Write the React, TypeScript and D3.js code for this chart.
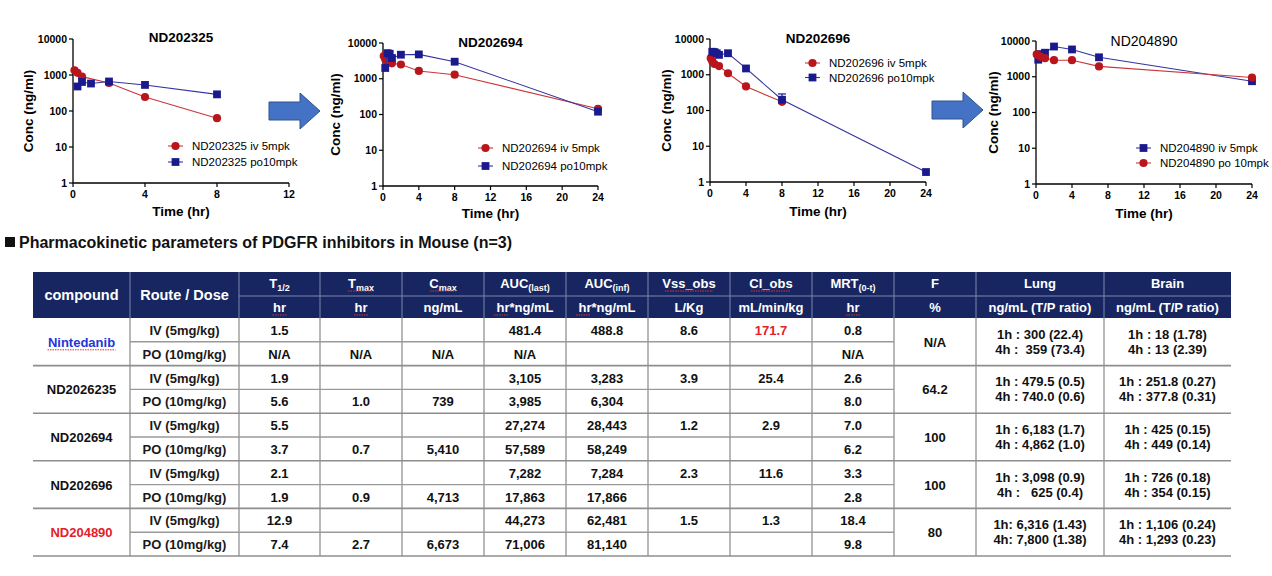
import React from "react";
import * as d3 from "d3";

// ---------------- chart data (time hr, conc ng/ml) ----------------
const c1IvT = [0.083, 0.25, 0.5, 2, 4, 8];
const c1IvC = [1350, 1150, 900, 600, 245, 63];
const c1PoT = [0.25, 0.5, 1, 2, 4, 8];
const c1PoC = [480, 640, 580, 660, 530, 290];

const c2IvT = [0.083, 0.25, 0.5, 1, 2, 4, 8, 24];
const c2IvC = [4300, 3500, 2800, 2700, 2500, 1650, 1300, 145];
const c2PoT = [0.25, 0.5, 0.75, 1, 2, 4, 8, 24];
const c2PoC = [2000, 5200, 5000, 3800, 4700, 4800, 3000, 120];

const c3IvT = [0.083, 0.25, 0.5, 1, 2, 4, 8];
const c3IvC = [2900, 2400, 2000, 1750, 1100, 470, 175];
const c3PoT = [0.25, 0.5, 0.75, 1, 2, 4, 8, 24];
const c3PoC = [4400, 4300, 4000, 3600, 4000, 1500, 200, 1.9];
const c3PoErr = [0, 0, 0, 0, 0, 0, 90, 0];

const c4IvT = [0.25, 0.5, 1, 2, 4, 7, 24];
const c4IvC = [3000, 4300, 4700, 7000, 5800, 3500, 750];
const c4PoT = [0.083, 0.25, 0.5, 1, 2, 4, 7, 24];
const c4PoC = [4200, 4000, 3600, 3300, 2900, 2900, 1950, 950];

const yTicks = [1, 10, 100, 1000, 10000];
const xTicks12 = [0, 4, 8, 12];
const xTicks24 = [0, 4, 8, 12, 16, 20, 24];

// ---------------- table data ----------------
const compounds = ["Nintedanib", "ND2026235", "ND202694", "ND202696", "ND204890"];
const routes = ["IV (5mg/kg)", "PO (10mg/kg)"];
const t12 = [["1.5", "N/A"], ["1.9", "5.6"], ["5.5", "3.7"], ["2.1", "1.9"], ["12.9", "7.4"]];
const tmax = [["", "N/A"], ["", "1.0"], ["", "0.7"], ["", "0.9"], ["", "2.7"]];
const cmax = [["", "N/A"], ["", "739"], ["", "5,410"], ["", "4,713"], ["", "6,673"]];
const aucLast = [["481.4", "N/A"], ["3,105", "3,985"], ["27,274", "57,589"], ["7,282", "17,863"], ["44,273", "71,006"]];
const aucInf = [["488.8", ""], ["3,283", "6,304"], ["28,443", "58,249"], ["7,284", "17,866"], ["62,481", "81,140"]];
const vss = [["8.6", ""], ["3.9", ""], ["1.2", ""], ["2.3", ""], ["1.5", ""]];
const clObs = [["171.7", ""], ["25.4", ""], ["2.9", ""], ["11.6", ""], ["1.3", ""]];
const mrt = [["0.8", "N/A"], ["2.6", "8.0"], ["7.0", "6.2"], ["3.3", "2.8"], ["18.4", "9.8"]];
const fPct = ["N/A", "64.2", "100", "100", "80"];
const lung = [
  ["1h : 300 (22.4)", "4h :  359 (73.4)"],
  ["1h : 479.5 (0.5)", "4h : 740.0 (0.6)"],
  ["1h : 6,183 (1.7)", "4h : 4,862 (1.0)"],
  ["1h : 3,098 (0.9)", "4h :   625 (0.4)"],
  ["1h: 6,316 (1.43)", "4h: 7,800 (1.38)"],
];
const brain = [
  ["1h : 18 (1.78)", "4h : 13 (2.39)"],
  ["1h : 251.8 (0.27)", "4h : 377.8 (0.31)"],
  ["1h : 425 (0.15)", "4h : 449 (0.14)"],
  ["1h : 726 (0.18)", "4h : 354 (0.15)"],
  ["1h : 1,106 (0.24)", "4h : 1,293 (0.23)"],
];

const FONT = "'Liberation Sans', Arial, sans-serif";
const RED = "#B8161C";
const RED_LINE = "#C8383A";
const BLUE = "#1A1A8E";
const BLUE_LINE = "#3434A0";
const NAVY = "#172660";

type Series = { name: string; t: number[]; c: number[]; err?: number[]; shape: "circle" | "square"; color: string; lineColor: string };

type ChartCfg = {
  left: number; right: number; top: number; bottom: number; xMax: number; xTicks: number[];
  title: string; titleBold: boolean; titleY: number; yLabelX: number; xLabelY: number;
  legX: number; legY: number; legGap: number; series: Series[];
};

function Marker({ shape, x, y, color }: { shape: string; x: number; y: number; color: string }) {
  if (shape === "circle") return <circle cx={x} cy={y} r={4.1} fill={color} />;
  return <rect x={x - 3.9} y={y - 3.9} width={7.8} height={7.8} fill={color} />;
}

function PKChart({ cfg }: { cfg: ChartCfg }) {
  const x = d3.scaleLinear().domain([0, cfg.xMax]).range([cfg.left, cfg.right]);
  const y = d3.scaleLog().domain([1, 10000]).range([cfg.bottom, cfg.top]);
  const line = d3.line<number[]>().x((d) => x(d[0])).y((d) => y(d[1]));
  const cx = (cfg.left + cfg.right) / 2;
  return (
    <g fontFamily={FONT}>
      <line x1={cfg.left} x2={cfg.left} y1={cfg.top} y2={cfg.bottom} stroke="#000" strokeWidth={1.3} />
      <line x1={cfg.left} x2={cfg.right} y1={cfg.bottom} y2={cfg.bottom} stroke="#000" strokeWidth={1.3} />
      {yTicks.map((v) => (
        <g key={"y" + v}>
          <line x1={cfg.left - 4} x2={cfg.left} y1={y(v)} y2={y(v)} stroke="#000" strokeWidth={1.2} />
          <text x={cfg.left - 6} y={y(v) + 3.6} textAnchor="end" fontSize={10.5} fontWeight="bold">{v}</text>
        </g>
      ))}
      {cfg.xTicks.map((v) => (
        <g key={"x" + v}>
          <line x1={x(v)} x2={x(v)} y1={cfg.bottom} y2={cfg.bottom + 4} stroke="#000" strokeWidth={1.2} />
          <text x={x(v)} y={cfg.bottom + 15} textAnchor="middle" fontSize={10.5} fontWeight="bold">{v}</text>
        </g>
      ))}
      <text x={cx} y={cfg.titleY + 5} textAnchor="middle" fontSize={cfg.titleBold ? 13.5 : 14} fontWeight={cfg.titleBold ? "bold" : "normal"}>{cfg.title}</text>
      <text transform={`translate(${cfg.yLabelX + 5},${(cfg.top + cfg.bottom) / 2}) rotate(-90)`} textAnchor="middle" fontSize={13.5} fontWeight="bold">Conc (ng/ml)</text>
      <text x={cx} y={cfg.xLabelY + 5} textAnchor="middle" fontSize={13.5} fontWeight="bold">Time (hr)</text>
      {cfg.series.map((s) => {
        const pts = s.t.map((t, i) => [t, s.c[i]]);
        return (
          <g key={s.name}>
            <path d={line(pts) || ""} fill="none" stroke={s.lineColor} strokeWidth={1.1} />
            {s.err && s.t.map((t, i) => s.err![i] > 0 ? (
              <g key={"e" + i}>
                <line x1={x(t)} x2={x(t)} y1={y(s.c[i])} y2={y(s.c[i] + s.err![i])} stroke={s.color} strokeWidth={1.2} />
                <line x1={x(t) - 4} x2={x(t) + 4} y1={y(s.c[i] + s.err![i])} y2={y(s.c[i] + s.err![i])} stroke={s.color} strokeWidth={1.2} />
              </g>
            ) : null)}
            {pts.map((p, i) => <Marker key={i} shape={s.shape} x={x(p[0])} y={y(p[1])} color={s.color} />)}
          </g>
        );
      })}
      {cfg.series.map((s, i) => {
        const ly = cfg.legY + i * cfg.legGap;
        return (
          <g key={"l" + i}>
            <line x1={cfg.legX} x2={cfg.legX + 15} y1={ly} y2={ly} stroke={s.lineColor} strokeWidth={1.1} />
            <Marker shape={s.shape} x={cfg.legX + 7.5} y={ly} color={s.color} />
            <text x={cfg.legX + 24} y={ly + 4} fontSize={11.5}>{s.name}</text>
          </g>
        );
      })}
    </g>
  );
}

const charts: ChartCfg[] = [
  {
    left: 73, right: 289, top: 39, bottom: 183, xMax: 12, xTicks: xTicks12, title: "ND202325", titleBold: true, titleY: 37,
    yLabelX: 28, xLabelY: 211, legX: 168, legY: 146, legGap: 16,
    series: [
      { name: "ND202325 iv 5mpk", t: c1IvT, c: c1IvC, shape: "circle", color: RED, lineColor: RED_LINE },
      { name: "ND202325 po10mpk", t: c1PoT, c: c1PoC, shape: "square", color: BLUE, lineColor: BLUE_LINE },
    ],
  },
  {
    left: 383, right: 598, top: 43, bottom: 186, xMax: 24, xTicks: xTicks24, title: "ND202694", titleBold: true, titleY: 42,
    yLabelX: 335, xLabelY: 213, legX: 478, legY: 148, legGap: 18,
    series: [
      { name: "ND202694 iv 5mpk", t: c2IvT, c: c2IvC, shape: "circle", color: RED, lineColor: RED_LINE },
      { name: "ND202694 po10mpk", t: c2PoT, c: c2PoC, shape: "square", color: BLUE, lineColor: BLUE_LINE },
    ],
  },
  {
    left: 710, right: 926, top: 39, bottom: 182, xMax: 24, xTicks: xTicks24, title: "ND202696", titleBold: true, titleY: 38,
    yLabelX: 666, xLabelY: 211, legX: 805, legY: 63, legGap: 14.5,
    series: [
      { name: "ND202696 iv 5mpk", t: c3IvT, c: c3IvC, shape: "circle", color: RED, lineColor: RED_LINE },
      { name: "ND202696 po10mpk", t: c3PoT, c: c3PoC, err: c3PoErr, shape: "square", color: BLUE, lineColor: BLUE_LINE },
    ],
  },
  {
    left: 1036, right: 1252, top: 41, bottom: 184, xMax: 24, xTicks: xTicks24, title: "ND204890", titleBold: false, titleY: 41,
    yLabelX: 993, xLabelY: 213, legX: 1136, legY: 148, legGap: 15,
    series: [
      { name: "ND204890 iv 5mpk", t: c4IvT, c: c4IvC, shape: "square", color: BLUE, lineColor: BLUE_LINE },
      { name: "ND204890 po 10mpk", t: c4PoT, c: c4PoC, shape: "circle", color: RED, lineColor: RED_LINE },
    ],
  },
];

function Arrow({ x0, x1, yc }: { x0: number; x1: number; yc: number }) {
  const head = 20;
  const bh = 9;
  const hh = 18;
  const xb = x1 - head;
  const d = `M${x0},${yc - bh} L${xb},${yc - bh} L${xb},${yc - hh} L${x1},${yc} L${xb},${yc + hh} L${xb},${yc + bh} L${x0},${yc + bh} Z`;
  return <path d={d} fill="#4472C4" stroke="#2F528F" strokeWidth={1} />;
}

const colX = [33, 130, 239, 320, 402, 484, 566, 648, 730, 812, 894, 976, 1104, 1231];
const tableTop = 272;
const h1 = 24;
const h2 = 22;
const rowH = 23.8;

function Squiggle({ x, y, w }: { x: number; y: number; w: number }) {
  return <line x1={x - w / 2} x2={x + w / 2} y1={y} y2={y} stroke="#E03030" strokeWidth={1} strokeDasharray="1.5,1" />;
}

function Table() {
  const dataTop = tableTop + h1 + h2;
  const bottom = dataTop + rowH * 10;
  const mid = (i: number) => (colX[i] + colX[i + 1]) / 2;
  const hy1 = tableTop + h1 / 2 + 5;
  const hy2 = tableTop + h1 + h2 / 2 + 5;
  const sub = (base: string, s: string) => (
    <>
      {base}
      <tspan fontSize={9} dy={3}>{s}</tspan>
    </>
  );
  const heads: { top: React.ReactNode; unit: string }[] = [
    { top: sub("T", "1/2"), unit: "hr" },
    { top: sub("T", "max"), unit: "hr" },
    { top: sub("C", "max"), unit: "ng/mL" },
    { top: sub("AUC", "(last)"), unit: "hr*ng/mL" },
    { top: sub("AUC", "(inf)"), unit: "hr*ng/mL" },
    { top: "Vss_obs", unit: "L/Kg" },
    { top: "Cl_obs", unit: "mL/min/kg" },
    { top: sub("MRT", "(0-t)"), unit: "hr" },
    { top: "F", unit: "%" },
    { top: "Lung", unit: "ng/mL (T/P ratio)" },
    { top: "Brain", unit: "ng/mL (T/P ratio)" },
  ];
  const perRow = [t12, tmax, cmax, aucLast, aucInf, vss, clObs, mrt];
  return (
    <g fontFamily={FONT}>
      <rect x={colX[0]} y={tableTop} width={colX[13] - colX[0]} height={h1 + h2} fill={NAVY} />
      {colX.slice(1, 13).map((cx, i) => (
        <line key={"hv" + i} x1={cx} x2={cx} y1={tableTop} y2={dataTop} stroke="#7D86AE" strokeWidth={1} />
      ))}
      <line x1={colX[2]} x2={colX[13]} y1={tableTop + h1} y2={tableTop + h1} stroke="#7D86AE" strokeWidth={1} />
      <text x={mid(0)} y={tableTop + (h1 + h2) / 2 + 5} textAnchor="middle" fill="#fff" fontSize={14.5} fontWeight="bold">compound</text>
      <text x={mid(1)} y={tableTop + (h1 + h2) / 2 + 5} textAnchor="middle" fill="#fff" fontSize={14.5} fontWeight="bold">Route / Dose</text>
      {heads.map((h, i) => (
        <g key={"h" + i}>
          <text x={mid(i + 2)} y={hy1 - 1} textAnchor="middle" fill="#fff" fontSize={13} fontWeight="bold">{h.top}</text>
          <text x={mid(i + 2)} y={hy2} textAnchor="middle" fill="#fff" fontSize={13} fontWeight="bold">{h.unit}</text>
        </g>
      ))}
      <Squiggle x={mid(2)} y={hy2 + 3} w={14} />
      <Squiggle x={mid(3)} y={hy2 + 3} w={14} />
      <Squiggle x={mid(3)} y={hy1 + 2} w={26} />
      <Squiggle x={mid(4)} y={hy1 + 2} w={26} />
      <Squiggle x={mid(5) - 24} y={hy2 + 3} w={14} />
      <Squiggle x={mid(6) - 24} y={hy2 + 3} w={14} />
      <Squiggle x={mid(7)} y={hy1 + 2} w={48} />
      <Squiggle x={mid(8)} y={hy1 + 2} w={40} />
      <Squiggle x={mid(9)} y={hy2 + 3} w={14} />
      {colX.slice(1, 13).map((cx, i) => (
        <line key={"v" + i} x1={cx} x2={cx} y1={dataTop} y2={bottom} stroke="#9A9A9A" strokeWidth={1.4} />
      ))}
      {compounds.map((_, g) => {
        const gy = dataTop + g * 2 * rowH;
        return (
          <g key={"gl" + g}>
            <line x1={colX[1]} x2={colX[10]} y1={gy + rowH} y2={gy + rowH} stroke="#9A9A9A" strokeWidth={1.4} />
            <line x1={colX[0]} x2={colX[13]} y1={gy + 2 * rowH} y2={gy + 2 * rowH} stroke="#8E8E8E" strokeWidth={1.6} />
          </g>
        );
      })}
      {compounds.map((name, g) => {
        const gy = dataTop + g * 2 * rowH;
        const gc = gy + rowH;
        const nameColor = g === 0 ? "#2436D8" : g === 4 ? "#E4202A" : "#111";
        return (
          <g key={"g" + g}>
            <text x={mid(0)} y={gc + 5} textAnchor="middle" fontSize={13} fontWeight="bold" fill={nameColor}>{name}</text>
            {g === 0 && <Squiggle x={mid(0)} y={gc + 8} w={68} />}
            {routes.map((r, k) => {
              const ry = gy + k * rowH + rowH / 2 + 5;
              return (
                <g key={"r" + k}>
                  <text x={mid(1)} y={ry} textAnchor="middle" fontSize={13} fontWeight="bold" fill="#1a1a1a">{r}</text>
                  {perRow.map((arr, ci) => (
                    <text key={ci} x={mid(ci + 2)} y={ry} textAnchor="middle" fontSize={13} fontWeight="bold"
                      fill={ci === 6 && g === 0 ? "#E4202A" : "#111"}>{arr[g][k]}</text>
                  ))}
                </g>
              );
            })}
            <text x={mid(10)} y={gc + 5} textAnchor="middle" fontSize={13} fontWeight="bold" fill="#111">{fPct[g]}</text>
            {[lung, brain].map((arr, ci) => (
              <g key={"lb" + ci}>
                <text x={mid(11 + ci)} y={gc - 3} textAnchor="middle" fontSize={13} fontWeight="bold" fill="#111" style={{ whiteSpace: "pre" }}>{arr[g][0]}</text>
                <text x={mid(11 + ci)} y={gc + 12} textAnchor="middle" fontSize={13} fontWeight="bold" fill="#111" style={{ whiteSpace: "pre" }}>{arr[g][1]}</text>
              </g>
            ))}
          </g>
        );
      })}
    </g>
  );
}

export default function App() {
  return (
    <div style={{ position: "absolute", left: 0, top: 0 }}>
      <svg width={1272} height={576} viewBox="0 0 1272 576" style={{ display: "block", background: "#fff" }}>
        <rect width={1272} height={576} fill="#fff" />
        {charts.map((c, i) => <PKChart key={i} cfg={c} />)}
        <Arrow x0={269} x1={320} yc={111} />
        <Arrow x0={932} x1={983} yc={110} />
        <rect x={5} y={237} width={10} height={10} fill="#111" />
        <text x={19} y={248} fontFamily={FONT} fontSize={16} fontWeight="bold" fill="#111">Pharmacokinetic parameters of PDGFR inhibitors in Mouse (n=3)</text>
        <Table />
      </svg>
    </div>
  );
}
